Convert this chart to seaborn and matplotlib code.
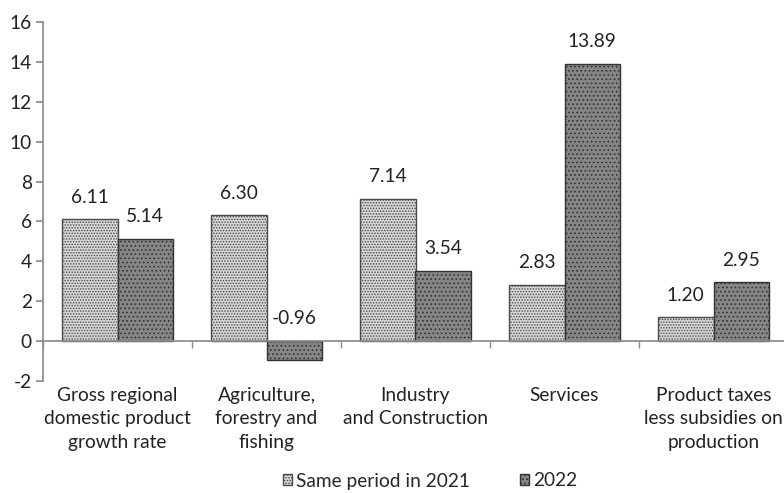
import matplotlib
matplotlib.use("Agg")
import matplotlib.pyplot as plt
import seaborn as sns
import pandas as pd

categories = ["Gross regional\ndomestic product\ngrowth rate",
              "Agriculture,\nforestry and\nfishing",
              "Industry\nand Construction",
              "Services",
              "Product taxes\nless subsidies on\nproduction"]
series_names = ["Same period in 2021", "2022"]
values_2021 = [6.11, 6.30, 7.14, 2.83, 1.20]
values_2022 = [5.14, -0.96, 3.54, 13.89, 2.95]
yticks = [-2, 0, 2, 4, 6, 8, 10, 12, 14, 16]

sns.set_theme(style="white")
plt.rcParams['font.family'] = ['Lato', 'DejaVu Sans']
plt.rcParams['hatch.linewidth'] = 0.7
plt.rcParams['axes.unicode_minus'] = False

FS = 13.8

df = pd.DataFrame({
    "category": categories * 2,
    "series": [series_names[0]] * 5 + [series_names[1]] * 5,
    "value": values_2021 + values_2022,
})

W, H = 784, 493
fig = plt.figure(figsize=(W / 100, H / 100), dpi=100)
ax = fig.add_axes([43 / W, (H - 381) / H, 745 / W, (381 - 22) / H])

sns.barplot(data=df, x="category", y="value", hue="series", order=categories,
            hue_order=series_names, palette=["#d4d4d4", "#7c7c7c"],
            width=0.745, ax=ax, legend=False)

styles = [dict(face="#d6d6d6", hatch="......", edge="#4a4a4a"),
          dict(face="#858585", hatch="....", edge="#333333")]
for ci, cont in enumerate(ax.containers):
    st = styles[ci]
    for bar in cont:
        bar.set_facecolor(st["face"])
        bar.set_edgecolor(st["edge"])
        bar.set_hatch(st["hatch"])
        bar.set_linewidth(1.0)

# value labels
for ci, (cont, vals) in enumerate(zip(ax.containers, [values_2021, values_2022])):
    for bar, v in zip(cont, vals):
        x = bar.get_x() + bar.get_width() / 2
        ax.annotate(f"{v:.2f}", (x, max(v, 0)), xytext=(0, 12),
                    textcoords="offset points", ha="center", va="baseline",
                    fontsize=FS, color="#222222")

ax.set_ylim(-2, 16)
ax.set_yticks(yticks)
ax.set_xlim(-0.5, len(categories) - 0.5)
ax.set_xlabel("")
ax.set_ylabel("")

for s in ["top", "right"]:
    ax.spines[s].set_visible(False)
ax.spines["left"].set_color("#8c8c8c")
ax.spines["bottom"].set_color("#8c8c8c")
ax.spines["bottom"].set_position(("data", 0))

ax.tick_params(axis="y", which="both", left=True, length=5, color="#8c8c8c",
               labelsize=FS, labelcolor="#222222", pad=3)
ax.set_xticks([i - 0.5 for i in range(len(categories) + 1)], minor=True)
ax.tick_params(axis="x", which="minor", bottom=True, length=5, color="#8c8c8c")
ax.tick_params(axis="x", which="major", bottom=False, length=0, pad=33,
               labelsize=FS, labelcolor="#222222")
for lbl in ax.get_xticklabels():
    lbl.set_linespacing(1.45)
    lbl.set_va("top")

handles = [ax.containers[0][0], ax.containers[1][0]]
leg = fig.legend(handles, series_names, loc="center", bbox_to_anchor=(430 / W, 12 / H),
                 ncol=2, frameon=False, fontsize=FS, handlelength=0.5, handleheight=0.5,
                 handletextpad=0.2, columnspacing=2.6)

fig.savefig("out.png", dpi=100)
